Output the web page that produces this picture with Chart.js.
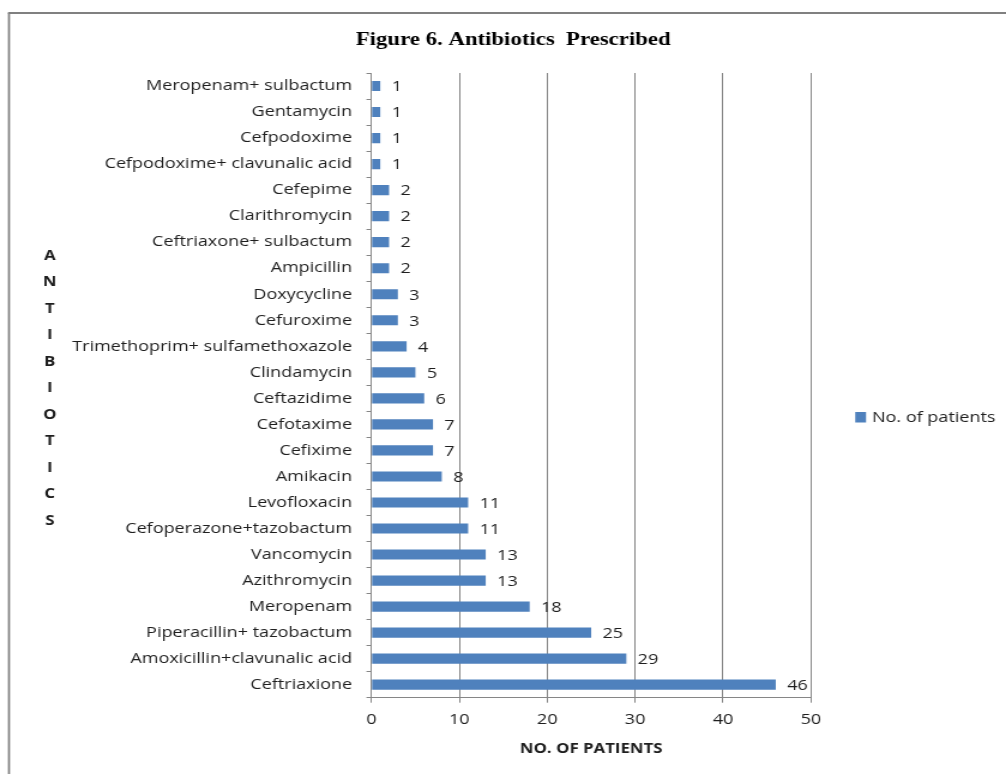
<!DOCTYPE html>
<html>
<head>
<meta charset="utf-8">
<title>Figure 6. Antibiotics Prescribed</title>
<script src="https://cdn.jsdelivr.net/npm/chart.js@4.4.1/dist/chart.umd.min.js"></script>
<style>
  html, body { margin: 0; padding: 0; background: #ffffff; overflow: hidden; }
  /* the figure is drawn narrow and widened horizontally, like the printed plate */
  #wrap { position: relative; width: 839px; height: 774px; transform: scaleX(1.1991); transform-origin: 0 0; }
</style>
</head>
<body>
<div id="wrap"><canvas id="chart" width="839" height="774"></canvas></div>
<script>
// Antibiotics, listed from the top row of the chart to the bottom row
const antibiotics = [
  'Meropenam+ sulbactum',
  'Gentamycin',
  'Cefpodoxime',
  'Cefpodoxime+ clavunalic acid',
  'Cefepime',
  'Clarithromycin',
  'Ceftriaxone+ sulbactum',
  'Ampicillin',
  'Doxycycline',
  'Cefuroxime',
  'Trimethoprim+ sulfamethoxazole',
  'Clindamycin',
  'Ceftazidime',
  'Cefotaxime',
  'Cefixime',
  'Amikacin',
  'Levofloxacin',
  'Cefoperazone+tazobactum',
  'Vancomycin',
  'Azithromycin',
  'Meropenam',
  'Piperacillin+ tazobactum',
  'Amoxicillin+clavunalic acid',
  'Ceftriaxione'
];

// Number of patients for each antibiotic (same order)
const patients = [1, 1, 1, 1, 2, 2, 2, 2, 3, 3, 4, 5, 6, 7, 7, 8, 11, 11, 13, 13, 18, 25, 29, 46];

// Value axis ticks
const xTicks = [0, 10, 20, 30, 40, 50];

const seriesName = 'No. of patients';
const chartTitle = 'Figure 6. Antibiotics  Prescribed';
const xAxisTitle = 'NO. OF PATIENTS';
const yAxisTitle = 'ANTIBIOTICS';

const BAR_BLUE = '#4F81BD';
const AXIS_GRAY = '#868686';
const TEXT = '#1e1e1e';
const SANS = "'Open Sans', 'Noto Sans', sans-serif";
const SERIF = "'Liberation Serif', 'DejaVu Serif', serif";

// Frame around the figure
const framePlugin = {
  id: 'frame',
  beforeDraw(chart) {
    const ctx = chart.ctx;
    ctx.save();
    ctx.fillStyle = '#ffffff';
    ctx.fillRect(0, 0, chart.width, chart.height);
    ctx.strokeStyle = '#808080';
    ctx.lineWidth = 1.7;
    ctx.beginPath();
    ctx.moveTo(7.5, chart.height + 2);
    ctx.lineTo(7.5, 13);
    ctx.stroke();
    ctx.lineWidth = 2;
    ctx.beginPath();
    ctx.moveTo(6.7, 13);
    ctx.lineTo(chart.width + 2, 13);
    ctx.stroke();
    ctx.restore();
  }
};

// Figure heading
const headingPlugin = {
  id: 'heading',
  afterDraw(chart) {
    const ctx = chart.ctx;
    ctx.save();
    ctx.font = 'bold 19px ' + SERIF;
    ctx.fillStyle = '#000000';
    ctx.textAlign = 'center';
    ctx.textBaseline = 'middle';
    ctx.fillText(chartTitle, 428, 40);
    ctx.restore();
  }
};

// Value printed to the right of each bar
const valueLabels = {
  id: 'valueLabels',
  afterDatasetsDraw(chart) {
    const ctx = chart.ctx;
    const meta = chart.getDatasetMeta(0);
    const values = chart.data.datasets[0].data;
    ctx.save();
    ctx.font = '15px ' + SANS;
    ctx.fillStyle = TEXT;
    ctx.textAlign = 'left';
    ctx.textBaseline = 'middle';
    meta.data.forEach((bar, i) => {
      ctx.fillText(String(values[i]), bar.x + 9.5, bar.y + 1);
    });
    ctx.restore();
  }
};

// Category axis title, one letter per line
const stackedAxisTitle = {
  id: 'stackedAxisTitle',
  afterDraw(chart) {
    const ctx = chart.ctx;
    ctx.save();
    ctx.font = 'bold 14px ' + SANS;
    ctx.fillStyle = TEXT;
    ctx.textAlign = 'center';
    ctx.textBaseline = 'middle';
    const letters = yAxisTitle.split('');
    const step = 26.5;
    const y0 = 256;
    letters.forEach((ch, i) => ctx.fillText(ch, 41.5, y0 + i * step));
    ctx.restore();
  }
};

// Series key at the right of the plot
const sideLegend = {
  id: 'sideLegend',
  afterDraw(chart) {
    const ctx = chart.ctx;
    const ds = chart.data.datasets[0];
    const x = chart.chartArea.right + 37;
    const y = 417;
    ctx.save();
    ctx.fillStyle = ds.backgroundColor;
    ctx.fillRect(x, y - 5, 9, 10.5);
    ctx.font = '15px ' + SANS;
    ctx.fillStyle = TEXT;
    ctx.textAlign = 'left';
    ctx.textBaseline = 'middle';
    ctx.fillText(ds.label, x + 14, y + 1);
    ctx.restore();
  }
};

new Chart(document.getElementById('chart'), {
  type: 'bar',
  data: {
    labels: antibiotics,
    datasets: [{
      label: seriesName,
      data: patients,
      backgroundColor: BAR_BLUE,
      borderWidth: 0,
      categoryPercentage: 1,
      barPercentage: 0.39
    }]
  },
  plugins: [framePlugin, valueLabels, stackedAxisTitle, sideLegend, headingPlugin],
  options: {
    indexAxis: 'y',
    responsive: false,
    animation: false,
    devicePixelRatio: 1,
    layout: { padding: { left: 0, right: 162.75, top: 73, bottom: 13 } },
    plugins: {
      legend: { display: false },
      tooltip: { enabled: false },
      title: { display: false }
    },
    scales: {
      x: {
        min: 0,
        max: 50,
        afterBuildTicks(scale) {
          scale.ticks = xTicks.map(v => ({ value: v }));
        },
        grid: {
          color: AXIS_GRAY,
          lineWidth: 1,
          tickLength: 5,
          drawOnChartArea: true
        },
        border: { color: AXIS_GRAY, width: 1 },
        ticks: {
          color: TEXT,
          font: { family: SANS, size: 15 },
          padding: 8,
          maxRotation: 0
        },
        title: {
          display: true,
          text: xAxisTitle,
          color: TEXT,
          font: { family: SANS, size: 14, weight: 'bold' },
          padding: { top: 3.5, bottom: 4 }
        }
      },
      y: {
        afterFit(scale) {
          scale.width = 309.8;
        },
        grid: {
          color: AXIS_GRAY,
          lineWidth: 1,
          tickLength: 4.2,
          drawOnChartArea: false,
          offset: true
        },
        border: { color: AXIS_GRAY, width: 1 },
        ticks: {
          color: TEXT,
          font: { family: SANS, size: 15 },
          padding: 12,
          autoSkip: false
        }
      }
    }
  }
});
</script>
</body>
</html>
